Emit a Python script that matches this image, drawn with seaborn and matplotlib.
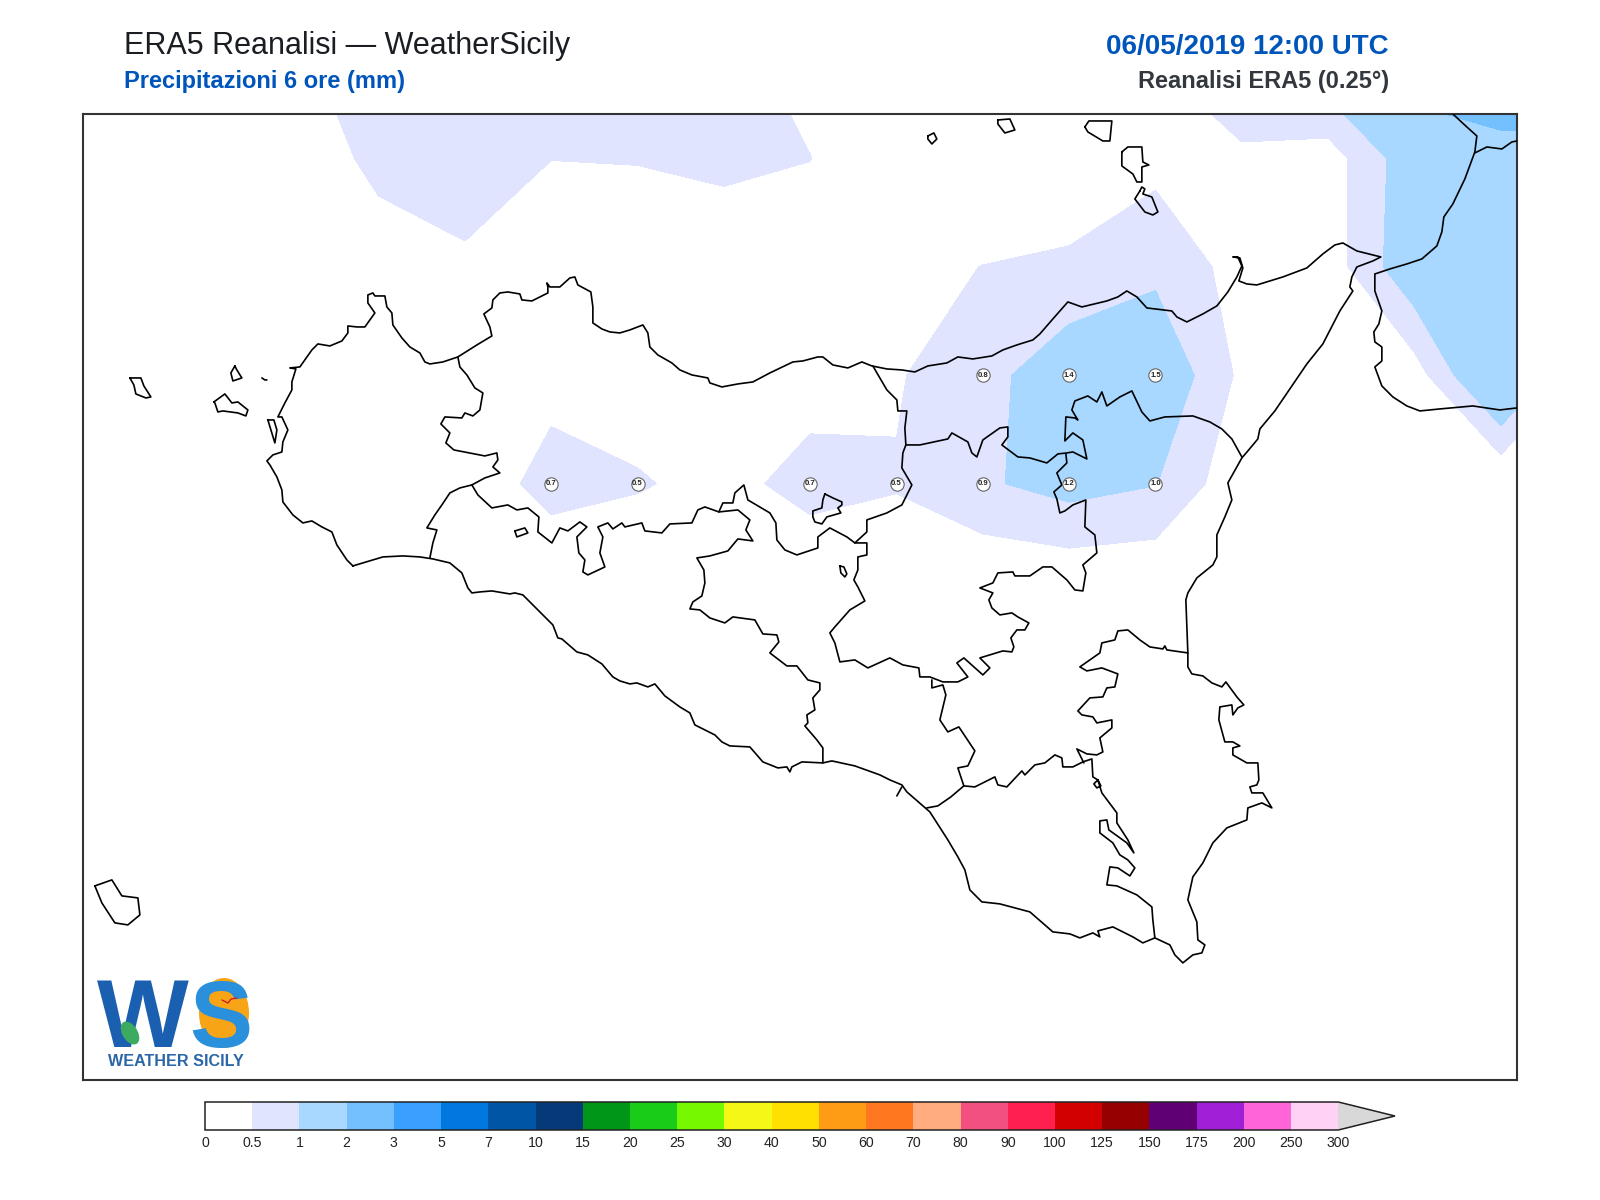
import numpy as np
import matplotlib
matplotlib.use("Agg")
import matplotlib.pyplot as plt
from matplotlib.colors import ListedColormap, BoundaryNorm
from matplotlib.lines import Line2D
from matplotlib.patches import Ellipse
import seaborn as sns

# precipitation field, 0.25 deg grid, estimated from the shaded areas
grid_lon = [11.75, 12.0, 12.25, 12.5, 12.75, 13.0, 13.25, 13.5, 13.75, 14.0,
            14.25, 14.5, 14.75, 15.0, 15.25, 15.5, 15.75, 16.0, 16.25]
grid_lat = [38.75, 38.5, 38.25, 38.0, 37.75, 37.5, 37.25]
rain_3875 = [.1, .1, .2, .39, .9, .8, .7, .65, .6, .34, .2, .2, .25, .52, 1.63, 1.61, 2.67, 2.43, 2.43]
rain_3850 = [.05, .05, .05, .09, .66, .82, .505, .521, .605, .506, .2, .2, .29, .35, .3, .245, 1.355, 1.85, 1.85]
rain_3825 = [0, 0, .05, .1, .2, .4, .25, .2, .2, .3, .4, .505, .55, .86, .31, .22, 1.44, 1.8, 1.5]
rain_3800 = [0, 0, 0, 0, .05, .1, .32, .21, .15, .265, .46, .8, 1.4, 1.5, .39, .1, .25, 1.87, .25]
rain_3775 = [0, 0, 0, 0, 0, .14, .7, .55, .32, .7, .53, .93, 1.2, 1.02, .12, .05, 0, 0, 0]
rain_3750 = [0, 0, 0, 0, 0, 0, 0, 0, 0, 0, .2, 0, .02, 0, 0, 0, 0, 0, 0]
rain_3725 = [0] * 19

# values printed on the map
point_lon = [13.25, 13.5, 14.0, 14.25, 14.5, 14.75, 15.0, 14.5, 14.75, 15.0]
point_lat = [37.75, 37.75, 37.75, 37.75, 37.75, 37.75, 37.75, 38.0, 38.0, 38.0]
point_val = [0.7, 0.5, 0.7, 0.5, 0.9, 1.2, 1.0, 0.8, 1.4, 1.5]

levels = [0, 0.5, 1, 2, 3, 5, 7, 10, 15, 20, 25, 30, 40, 50, 60, 70, 80, 90,
          100, 125, 150, 175, 200, 250, 300]
level_colors = ["#ffffff", "#e0e4ff", "#a8d8ff", "#74c0ff", "#3aa0ff", "#0078e0",
                "#0055a5", "#043a78", "#009618", "#18cc18", "#76f800", "#f5f815",
                "#ffe000", "#ff9c16", "#ff7820", "#ffad80", "#f25080", "#ff2050",
                "#d20000", "#960000", "#5f0075", "#a020d8", "#ff64d8", "#ffd2f5"]

# outlines (sheet units, converted to lon/lat below)
sicily_coast = [
    (353, 566), (347, 560), (337, 545), (332, 532), (322, 527), (312, 521), (303, 523), (293, 515),
    (283, 502), (282, 490), (277, 477), (270, 465), (267, 461), (273, 455), (282, 452), (283, 442),
    (288, 430), (282, 417), (278, 417), (285, 403), (292, 390), (292, 382), (296, 369), (290, 368),
    (300, 367), (312, 350), (318, 344), (330, 346), (342, 341), (348, 333), (348, 326), (357, 327),
    (365, 327), (375, 313), (368, 303), (368, 295), (373, 293), (375, 296), (385, 296), (387, 307),
    (392, 313), (393, 325), (402, 338), (410, 347), (420, 353), (425, 362), (430, 364), (443, 362),
    (458, 357), (477, 345), (492, 336), (490, 327), (484, 314), (492, 308), (493, 300), (500, 293),
    (508, 292), (520, 294), (522, 300), (532, 301), (548, 293), (548, 287), (547, 283), (550, 287),
    (560, 287), (570, 278), (575, 277), (578, 285), (591, 292), (593, 307), (593, 323), (602, 329),
    (610, 332), (620, 333), (630, 330), (643, 325), (648, 333), (650, 347), (658, 355), (672, 363),
    (680, 370), (692, 375), (708, 378), (710, 383), (722, 387), (738, 384), (753, 382), (770, 373),
    (793, 362), (803, 361), (818, 357), (823, 357), (833, 365), (848, 368), (862, 362), (872, 366),
    (887, 369), (902, 370), (915, 372), (928, 366), (947, 363), (958, 357), (973, 359), (992, 356),
    (1003, 350), (1017, 345), (1033, 340), (1040, 334), (1053, 319), (1068, 302), (1082, 307),
    (1107, 301), (1118, 297), (1127, 291), (1137, 297), (1147, 308), (1172, 311), (1177, 317),
    (1187, 322), (1203, 314), (1217, 306), (1228, 292), (1237, 277), (1242, 266), (1238, 257),
    (1233, 257), (1240, 258), (1243, 268), (1239, 281), (1247, 284), (1257, 285), (1283, 277),
    (1307, 268), (1323, 254), (1335, 245), (1343, 243), (1357, 251), (1381, 257), (1373, 261),
    (1357, 267), (1352, 277), (1350, 287), (1353, 291), (1340, 311), (1323, 344), (1307, 364),
    (1275, 411), (1260, 429), (1258, 439), (1248, 451), (1242, 458), (1228, 483), (1232, 500),
    (1225, 517), (1217, 535), (1217, 557), (1213, 565), (1197, 578), (1188, 593), (1186, 600),
    (1188, 653), (1188, 667), (1192, 674), (1203, 676), (1212, 683), (1222, 687), (1226, 682),
    (1237, 697), (1244, 705), (1238, 708), (1233, 715), (1232, 705), (1220, 707), (1219, 720),
    (1225, 742), (1233, 742), (1240, 746), (1233, 748), (1233, 755), (1247, 763), (1258, 763),
    (1259, 780), (1257, 785), (1250, 787), (1252, 793), (1263, 793), (1272, 808), (1262, 803),
    (1248, 808), (1247, 820), (1227, 828), (1213, 843), (1203, 863), (1193, 877), (1188, 900),
    (1197, 922), (1198, 940), (1205, 945), (1202, 953), (1193, 955), (1183, 963), (1175, 955),
    (1170, 945), (1155, 938), (1143, 943), (1133, 937), (1113, 927), (1098, 931), (1100, 937),
    (1093, 933), (1080, 938), (1070, 934), (1053, 932), (1045, 925), (1030, 912), (1000, 904),
    (982, 902), (970, 890), (965, 870), (958, 857), (948, 840), (930, 812), (907, 792), (902, 785),
    (890, 780), (880, 775), (855, 766), (832, 761), (823, 763), (802, 762), (792, 767), (790, 772),
    (787, 767), (778, 768), (763, 762), (750, 747), (730, 746), (722, 742), (715, 735), (695, 725),
    (690, 713), (680, 707), (665, 696), (655, 684), (648, 687), (637, 683), (630, 684), (620, 681),
    (613, 677), (602, 664), (588, 655), (577, 652), (562, 639), (558, 638), (553, 625), (545, 617),
    (535, 607), (523, 595), (515, 593), (510, 594), (492, 591), (480, 592), (472, 593), (468, 588),
    (462, 573), (450, 563), (433, 559), (420, 557), (403, 556), (383, 557), (353, 566)]
border_tp = [
    (458, 357), (460, 367), (467, 375), (475, 388), (483, 393), (480, 410), (473, 416), (465, 413),
    (462, 418), (445, 417), (441, 424), (450, 433), (446, 443), (454, 450), (485, 456), (497, 453),
    (498, 460), (493, 467), (500, 473), (485, 478), (472, 485), (460, 488), (450, 493), (442, 505),
    (435, 515), (427, 528), (437, 530), (433, 543), (430, 558)]
border_pa = [
    (472, 485), (478, 495), (492, 508), (508, 505), (517, 510), (528, 508), (539, 517), (538, 532),
    (552, 543), (560, 528), (568, 531), (580, 522), (587, 527), (577, 537), (579, 553), (585, 560),
    (583, 572), (588, 575), (605, 567), (600, 553), (603, 537), (598, 527), (608, 523), (613, 529),
    (622, 523), (625, 527), (642, 523), (645, 531), (662, 533), (670, 524), (692, 523), (698, 510),
    (705, 507), (719, 512), (723, 503), (733, 503), (735, 493), (744, 485), (748, 500), (770, 513),
    (776, 523), (777, 540), (785, 550), (797, 555), (818, 548), (818, 537), (830, 528), (847, 537),
    (855, 543), (867, 532), (867, 520), (887, 513), (902, 505), (912, 485), (902, 468), (903, 453),
    (906, 445), (905, 428), (907, 411), (898, 411), (897, 400), (887, 390), (873, 366)]
border_ag = [
    (719, 512), (738, 510), (750, 520), (746, 530), (753, 541), (738, 539), (728, 551), (710, 556),
    (697, 558), (704, 570), (705, 583), (702, 596), (693, 602), (690, 609), (700, 610), (710, 618),
    (725, 623), (733, 617), (755, 620), (763, 634), (777, 635), (779, 642), (770, 653), (787, 666),
    (797, 666), (808, 680), (820, 683), (820, 690), (813, 698), (815, 710), (807, 715), (808, 723),
    (805, 726), (817, 740), (823, 748), (823, 763)]
border_en = [
    (855, 543), (867, 543), (867, 555), (858, 557), (858, 570), (854, 580), (858, 587), (865, 601),
    (850, 610), (835, 627), (830, 633), (835, 643), (840, 662), (855, 660), (868, 668), (890, 658),
    (903, 665), (919, 668), (920, 677), (930, 677), (943, 682), (958, 682), (968, 677), (957, 663),
    (964, 658), (983, 675), (990, 668), (980, 658), (1003, 651), (1012, 652), (1014, 647),
    (1011, 638), (1017, 630), (1025, 630), (1029, 623), (1018, 617), (1012, 613), (1000, 615),
    (992, 608), (989, 600), (993, 593), (980, 588), (993, 583), (998, 573), (1013, 572), (1015, 576),
    (1030, 576), (1043, 567), (1052, 567), (1067, 580), (1075, 590), (1083, 591), (1086, 573),
    (1083, 565), (1097, 553), (1095, 535), (1085, 527), (1086, 500), (1073, 505), (1065, 511),
    (1060, 513), (1057, 499), (1054, 492), (1062, 485), (1057, 473), (1067, 463), (1066, 454)]
border_me = [
    (906, 445), (920, 445), (948, 439), (952, 433), (968, 442), (972, 453), (977, 457), (983, 440),
    (1000, 428), (1008, 427), (1008, 437), (1002, 445), (1018, 457), (1030, 458), (1047, 463),
    (1058, 454), (1067, 453), (1073, 452), (1087, 459), (1083, 440), (1073, 433), (1065, 441),
    (1066, 417), (1075, 418), (1078, 420), (1072, 410), (1075, 401), (1088, 396), (1097, 402),
    (1102, 392), (1107, 406), (1120, 397), (1132, 391), (1142, 412), (1150, 421), (1165, 417),
    (1193, 416), (1210, 422), (1222, 429), (1232, 439), (1242, 457)]
border_cl = [
    (932, 680), (932, 688), (943, 685), (946, 695), (940, 720), (948, 732), (959, 727), (975, 751),
    (968, 766), (958, 768), (964, 786), (951, 797), (938, 806), (927, 808)]
border_rg = [
    (964, 786), (975, 787), (995, 777), (998, 785), (1007, 787), (1022, 771), (1025, 775), (1035, 765),
    (1045, 763), (1055, 755), (1062, 758), (1063, 767), (1073, 767), (1083, 762), (1092, 759),
    (1093, 777), (1098, 780), (1094, 784), (1097, 788), (1101, 786), (1098, 780), (1102, 793),
    (1117, 813), (1117, 823), (1128, 840), (1134, 853), (1127, 843), (1109, 830), (1107, 820),
    (1100, 821), (1100, 833), (1113, 843), (1120, 855), (1128, 860), (1135, 868), (1130, 876),
    (1118, 868), (1110, 867), (1107, 885), (1117, 886), (1137, 895), (1152, 907), (1153, 920),
    (1155, 938)]
border_ct = [
    (1188, 653), (1167, 650), (1165, 646), (1163, 649), (1150, 647), (1140, 640), (1128, 630),
    (1118, 631), (1115, 640), (1102, 643), (1100, 653), (1080, 667), (1087, 671), (1102, 668),
    (1118, 674), (1115, 687), (1107, 688), (1103, 697), (1090, 698), (1078, 711), (1082, 715),
    (1093, 717), (1097, 723), (1112, 720), (1112, 728), (1100, 738), (1103, 752), (1097, 755),
    (1087, 754), (1077, 749), (1084, 763)]
cape_spit = [(902, 787), (897, 796)]
lake_pozzillo = [
    (825, 494), (833, 498), (842, 502), (842, 505), (838, 508), (841, 513), (827, 517), (822, 524),
    (815, 522), (813, 517), (813, 511), (822, 508), (823, 500), (825, 494)]
lake_ogliastro = [(840, 566), (844, 567), (847, 574), (845, 577), (841, 573), (840, 566)]
lake_arancio = [(515, 531), (525, 528), (528, 533), (517, 537), (515, 531)]
isola_lunga = [(268, 420), (275, 443), (277, 430), (274, 420), (268, 420)]
marettimo = [(130, 378), (141, 378), (144, 386), (151, 397), (146, 398), (136, 394), (134, 385), (130, 378)]
levanzo = [(235, 366), (231, 373), (233, 381), (242, 378), (237, 370), (235, 366)]
formica = [(262, 378), (265, 380), (267, 380)]
favignana = [(214, 402), (225, 394), (232, 403), (238, 402), (248, 410), (246, 416), (238, 413),
             (223, 411), (218, 412), (215, 403), (214, 402)]
lipari = [(1122, 152), (1128, 147), (1142, 147), (1143, 162), (1149, 165), (1142, 167), (1142, 182),
          (1137, 182), (1133, 174), (1122, 166), (1122, 152)]
salina = [(1085, 127), (1089, 121), (1112, 121), (1110, 141), (1103, 141), (1088, 132), (1085, 127)]
vulcano = [(1140, 191), (1142, 187), (1145, 189), (1143, 194), (1152, 197), (1158, 212), (1153, 215),
           (1145, 212), (1135, 199), (1140, 191)]
filicudi = [(998, 120), (1010, 119), (1015, 130), (1005, 133), (998, 124), (998, 120)]
alicudi = [(928, 136), (934, 133), (937, 139), (932, 144), (928, 139), (928, 136)]
pantelleria = [(95, 886), (112, 880), (122, 896), (138, 898), (140, 915), (128, 925), (115, 923),
               (102, 903), (95, 886)]
calabria_coast = [
    (1453, 114), (1467, 127), (1477, 136), (1475, 152), (1465, 179), (1453, 204), (1444, 217),
    (1442, 232), (1437, 246), (1422, 259), (1407, 264), (1390, 269), (1375, 274), (1375, 291),
    (1382, 311), (1379, 324), (1374, 332), (1375, 342), (1382, 347), (1382, 361), (1375, 367),
    (1382, 386), (1393, 397), (1407, 406), (1420, 411), (1440, 409), (1473, 406), (1500, 410),
    (1517, 408)]
calabria_border = [(1475, 153), (1487, 147), (1502, 149), (1512, 142), (1517, 141)]

outlines = [sicily_coast, border_tp, border_pa, border_ag, border_en, border_me, border_cl, border_rg,
            border_ct, cape_spit, lake_pozzillo, lake_ogliastro, lake_arancio, isola_lunga, marettimo,
            levanzo, formica, favignana, lipari, salina, vulcano, filicudi, alicudi, pantelleria,
            calabria_coast, calabria_border]


def sheet_to_lonlat(path):
    arr = np.array(path, dtype=float)
    return 14.75 + (arr[:, 0] - 1069.3) / 345.3, 38.0 - (arr[:, 1] - 375.3) / 434.0


sns.set_theme(style="white")
plt.rcParams["font.family"] = ["Liberation Sans", "DejaVu Sans"]

W, H = 1600, 1200
fig = plt.figure(figsize=(16, 12), dpi=100)
ax = fig.add_axes([83 / W, 1 - 1080 / H, 1434 / W, 966 / H])

rain = np.array([rain_3875, rain_3850, rain_3825, rain_3800, rain_3775, rain_3750, rain_3725])
cmap = ListedColormap(level_colors)
cmap.set_over("#d8d8d8")
norm = BoundaryNorm(levels, cmap.N)
cf = ax.contourf(grid_lon, grid_lat, rain, levels=levels, cmap=cmap, norm=norm, extend="max")

for path in outlines:
    lon, lat = sheet_to_lonlat(path)
    sns.lineplot(x=lon, y=lat, sort=False, estimator=None, color="black", linewidth=1.2, ax=ax, zorder=3)

sns.scatterplot(x=point_lon, y=point_lat, s=92, color="white", edgecolor="#666666", linewidth=0.8, ax=ax, zorder=4)
for lon, lat, val in zip(point_lon, point_lat, point_val):
    ax.text(lon, lat, f"{val:.1f}", ha="center", va="center", fontsize=5.6, fontweight="bold",
            color="#222222", zorder=5)

ax.set_xlim(11.894, 16.047)
ax.set_ylim(36.376, 38.602)
ax.set_xticks([])
ax.set_yticks([])
ax.set_xlabel("")
ax.set_ylabel("")
for sp in ax.spines.values():
    sp.set_visible(True)
    sp.set_color("#333333")
    sp.set_linewidth(1.5)

# colour bar, the arrow sits inside the axes so the axes runs out to its tip
cax = fig.add_axes([205 / W, 1 - 1130 / H, 1190 / W, 28 / H])
cb = fig.colorbar(cf, cax=cax, orientation="horizontal", extend="max", extendfrac=0.05, ticks=levels)
cb.ax.set_xticklabels([f"{v:g}" for v in levels])
cb.ax.tick_params(length=0, pad=4, labelsize=10.2, colors="#222222")
cb.outline.set_edgecolor("#222222")
cb.outline.set_linewidth(1.1)

# header
fig.text(124 / W, 1 - 54 / H, "ERA5 Reanalisi \u2014 WeatherSicily", fontsize=22, color="#1a1d22", va="baseline")
fig.text(124 / W, 1 - 88 / H, "Precipitazioni 6 ore (mm)", fontsize=17, fontweight="bold", color="#0055bb", va="baseline")
fig.text(1389 / W, 1 - 54 / H, "06/05/2019 12:00 UTC", fontsize=20, fontweight="bold", color="#0055bb", ha="right", va="baseline")
fig.text(1389 / W, 1 - 88 / H, "Reanalisi ERA5 (0.25\u00b0)", fontsize=17, fontweight="bold", color="#33383f", ha="right", va="baseline")

# logo
fig.add_artist(Ellipse((224 / W, 1 - 1013 / H), 50 / W, 70 / H, transform=fig.transFigure, facecolor="#f7a516", edgecolor="none", zorder=6))
fig.text(97 / W, 1 - 1047 / H, "W", fontsize=70, fontweight="bold", color="#1a5fb0", va="baseline", zorder=7)
fig.text(189 / W, 1 - 1047 / H, "S", fontsize=68, fontweight="bold", color="#2a90dc", va="baseline", zorder=7)
fig.add_artist(Ellipse((130 / W, 1 - 1033 / H), 16 / W, 24 / H, angle=20, transform=fig.transFigure, facecolor="#3caa60", edgecolor="none", zorder=8))
fig.add_artist(Line2D([222 / W, 228 / W, 231 / W, 237 / W], [1 - 1000 / H, 1 - 1003 / H, 1 - 999 / H, 1 - 998 / H],
                      transform=fig.transFigure, color="#d02020", linewidth=1.0, zorder=8))
fig.text(108 / W, 1 - 1066 / H, "WEATHER SICILY", fontsize=11.6, fontweight="bold", color="#2a66a8", va="baseline", zorder=7)

fig.savefig("out.png", dpi=100, facecolor="white")
